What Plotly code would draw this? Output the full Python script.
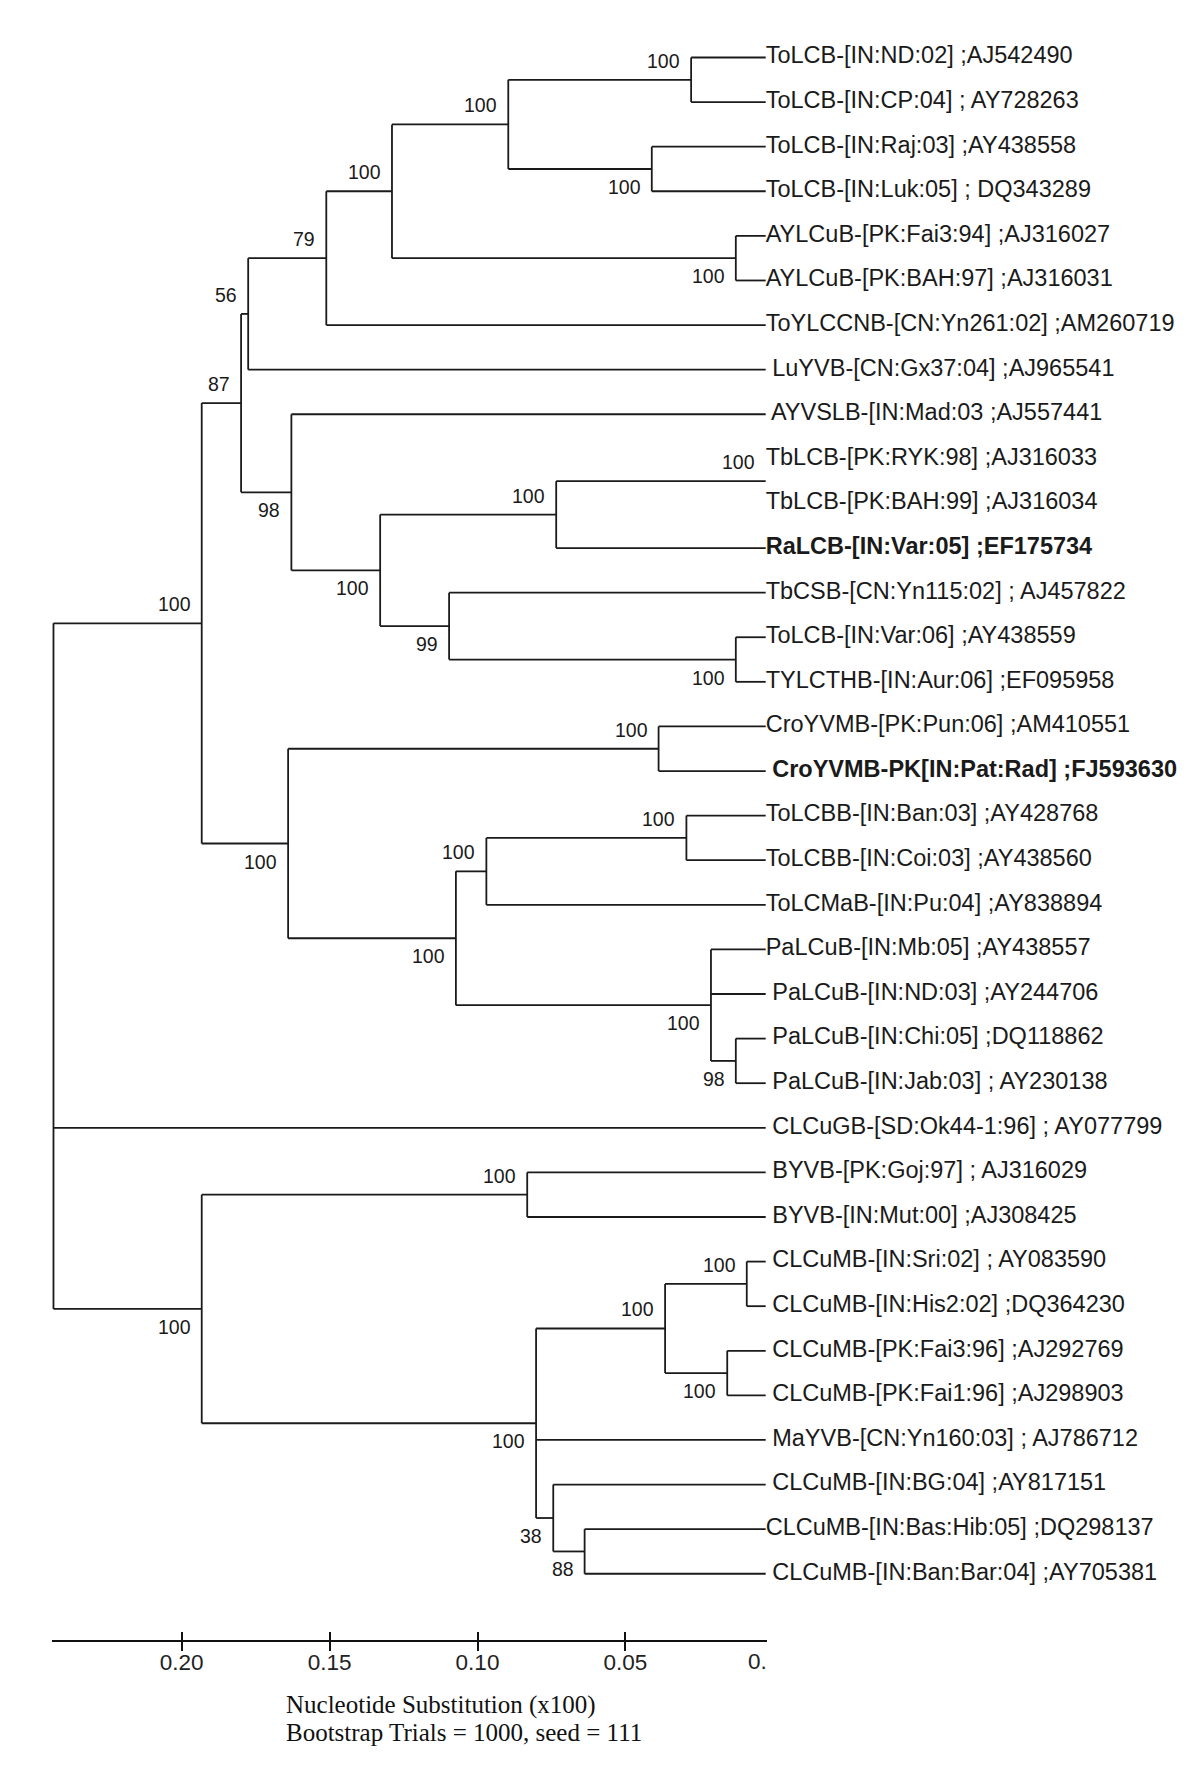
import plotly.graph_objects as go

# ---------------- data ----------------
tip_labels = [
    "ToLCB-[IN:ND:02] ;AJ542490",
    "ToLCB-[IN:CP:04] ; AY728263",
    "ToLCB-[IN:Raj:03] ;AY438558",
    "ToLCB-[IN:Luk:05] ; DQ343289",
    "AYLCuB-[PK:Fai3:94] ;AJ316027",
    "AYLCuB-[PK:BAH:97] ;AJ316031",
    "ToYLCCNB-[CN:Yn261:02] ;AM260719",
    " LuYVB-[CN:Gx37:04] ;AJ965541",
    " AYVSLB-[IN:Mad:03 ;AJ557441",
    "TbLCB-[PK:RYK:98] ;AJ316033",
    "TbLCB-[PK:BAH:99] ;AJ316034",
    "RaLCB-[IN:Var:05] ;EF175734",
    "TbCSB-[CN:Yn115:02] ; AJ457822",
    "ToLCB-[IN:Var:06] ;AY438559",
    "TYLCTHB-[IN:Aur:06] ;EF095958",
    "CroYVMB-[PK:Pun:06] ;AM410551",
    " CroYVMB-PK[IN:Pat:Rad] ;FJ593630",
    "ToLCBB-[IN:Ban:03] ;AY428768",
    "ToLCBB-[IN:Coi:03] ;AY438560",
    "ToLCMaB-[IN:Pu:04] ;AY838894",
    "PaLCuB-[IN:Mb:05] ;AY438557",
    " PaLCuB-[IN:ND:03] ;AY244706",
    " PaLCuB-[IN:Chi:05] ;DQ118862",
    " PaLCuB-[IN:Jab:03] ; AY230138",
    " CLCuGB-[SD:Ok44-1:96] ; AY077799",
    " BYVB-[PK:Goj:97] ; AJ316029",
    " BYVB-[IN:Mut:00] ;AJ308425",
    " CLCuMB-[IN:Sri:02] ; AY083590",
    " CLCuMB-[IN:His2:02] ;DQ364230",
    " CLCuMB-[PK:Fai3:96] ;AJ292769",
    " CLCuMB-[PK:Fai1:96] ;AJ298903",
    " MaYVB-[CN:Yn160:03] ; AJ786712",
    " CLCuMB-[IN:BG:04] ;AY817151",
    "CLCuMB-[IN:Bas:Hib:05] ;DQ298137",
    " CLCuMB-[IN:Ban:Bar:04] ;AY705381",
]
bold_tips = [11, 16]
tip_heights = [0.0026] * len(tip_labels)   # tips sit at ~0.0026 on the drawn scale

# internal nodes (children: int = tip index, str = node name)
node_names = ["ndcp", "rajluk", "tolcb4", "aylcub", "b", "n79", "n56",
              "tb", "tbra", "vartyl", "n99", "n100b", "n98", "n87",
              "cro", "tolcbb", "e", "chijab", "palcub", "d", "c", "a",
              "byvb", "sri", "fai", "h", "n88", "n38", "g", "f", "root"]
node_heights = [0.0278, 0.0411, 0.0896, 0.0127, 0.1289, 0.1511, 0.1775,
                0.0026, 0.0734, 0.0127, 0.1096, 0.1329, 0.1629, 0.1799,
                0.0388, 0.0294, 0.0970, 0.0127, 0.0211, 0.1073, 0.1640, 0.1932,
                0.0832, 0.0090, 0.0156, 0.0366, 0.0638, 0.0744, 0.0802, 0.1932, 0.2433]
node_children = [[0, 1], [2, 3], ["ndcp", "rajluk"], [4, 5], ["tolcb4", "aylcub"],
                 ["b", 6], ["n79", 7],
                 [9, 10], ["tb", 11], [13, 14], [12, "vartyl"], ["tbra", "n99"],
                 [8, "n100b"], ["n56", "n98"],
                 [15, 16], [17, 18], ["tolcbb", 19], [22, 23], [20, 21, "chijab"],
                 ["e", "palcub"], ["cro", "d"], ["n87", "c"],
                 [25, 26], [27, 28], [29, 30], ["sri", "fai"], [33, 34],
                 [32, "n88"], ["h", 31, "n38"], ["byvb", "g"], ["a", 24, "f"]]
node_support = ["100", "100", "100", "100", "100", "79", "56",
                "100", "100", "100", "99", "100", "98", "87",
                "100", "100", "100", "98", "100", "100", "100", "100",
                "100", "100", "100", "100", "88", "38", "100", "100", ""]
node_support_side = ["above", "below", "above", "below", "above", "above", "above",
                     "above", "above", "below", "below", "below", "below", "above",
                     "above", "above", "above", "below", "below", "below", "below", "above",
                     "above", "above", "below", "above", "below", "below", "below", "below", ""]

axis_tickvals = [0.20, 0.15, 0.10, 0.05]
axis_ticktext = ["0.20", "0.15", "0.10", "0.05"]
axis_end_label = "0."
axis_end_value = 0.00216
caption_lines = ["Nucleotide Substitution (x100)", "Bootstrap Trials = 1000, seed = 111"]

# ---------------- layout geometry ----------------
W, H = 1200, 1782
PPU = 2962.0        # pixels per substitution unit
X_ZERO = 765.7      # pixel of value 0
PAD = 0.0005
TIP0_PX = 49.5
PPI = 44.61         # pixels per tip row
AXIS_PX = 1632.5

root_h = node_heights[node_names.index("root")]
ml = X_ZERO - (root_h + PAD) * PPU
x_right = X_ZERO - axis_end_value * PPU
mr = W - x_right
pw = W - ml - mr
mb = H - AXIS_PX
ph = AXIS_PX
y_range = [(AXIS_PX - TIP0_PX) / PPI, -TIP0_PX / PPI]

TXT = "#1a1a1a"
SANS = "Arial, Liberation Sans, sans-serif"

# ---------------- tree geometry ----------------
node_idx = {n: i for i, n in enumerate(node_names)}
ycache = {}


def pos(c):
    if isinstance(c, int):
        return tip_heights[c], float(c)
    i = node_idx[c]
    if c not in ycache:
        ch = node_children[i]
        ycache[c] = (pos(ch[0])[1] + pos(ch[-1])[1]) / 2.0
    return node_heights[i], ycache[c]


lx, ly = [], []
for name, h, ch in zip(node_names, node_heights, node_children):
    chpos = [pos(c) for c in ch]
    if any(abs(p[0] - h) > 1e-9 for p in chpos):
        lx += [h, h, None]
        ly += [chpos[0][1], chpos[-1][1], None]
    for chh, chy in chpos:
        if abs(chh - h) > 1e-9:
            lx += [h, chh, None]
            ly += [chy, chy, None]

fig = go.Figure()
fig.add_trace(go.Scatter(x=lx, y=ly, mode="lines",
                         line=dict(color="#1a1a1a", width=1.8),
                         hoverinfo="skip", showlegend=False))

texts = [("<b>%s</b>" % t) if i in bold_tips else t for i, t in enumerate(tip_labels)]
fig.add_trace(go.Scatter(x=tip_heights, y=list(range(len(tip_labels))), mode="text",
                         text=texts, textposition="middle right",
                         textfont=dict(family=SANS, size=23.5, color=TXT),
                         cliponaxis=False, hoverinfo="skip", showlegend=False,
                         xaxis="x2", yaxis="y"))

annotations = []
for name, sup, side in zip(node_names, node_support, node_support_side):
    if not sup:
        continue
    h, y = pos(name)
    annotations.append(dict(x=h, y=y, xref="x", yref="y", text=sup, showarrow=False,
                            xanchor="right", yanchor="middle", xshift=-9,
                            yshift=19 if side == "above" else -18,
                            font=dict(family=SANS, size=19.5, color=TXT)))

# clipped end label of the scale
annotations.append(dict(x=1.0, y=(AXIS_PX - 1654.0) / ph, xref="paper", yref="paper",
                        text=axis_end_label, showarrow=False, xanchor="right",
                        yanchor="middle", xshift=2,
                        font=dict(family=SANS, size=22.5, color="#222222")))

cap_x = (275.5 - ml) / pw
for line, ypx in zip(caption_lines, [1698.0, 1725.0]):
    annotations.append(dict(x=cap_x, y=(AXIS_PX - ypx) / ph, xref="paper", yref="paper",
                            text=line, showarrow=False, xanchor="left", yanchor="middle",
                            font=dict(family="Liberation Serif, Times New Roman, serif",
                                      size=25, color="#111111")))

fig.update_layout(
    width=W, height=H, autosize=False,
    margin=dict(l=ml, r=mr, t=0, b=mb, pad=0),
    paper_bgcolor="white", plot_bgcolor="white",
    showlegend=False,
    xaxis=dict(range=[root_h + PAD, axis_end_value], showgrid=False, zeroline=False,
               showline=True, linecolor="#111111", linewidth=2,
               ticks="outside", ticklen=9, tickwidth=1.5, tickcolor="#111111",
               tickvals=axis_tickvals, ticktext=axis_ticktext, ticklabelstandoff=-8,
               tickfont=dict(family=SANS, size=22.5, color="#222222")),
    xaxis2=dict(overlaying="x", matches="x", anchor="y", side="bottom",
                showgrid=False, zeroline=False, showline=False,
                ticks="inside", ticklen=8, tickwidth=1.5, tickcolor="#111111",
                tickvals=axis_tickvals, showticklabels=False),
    yaxis=dict(range=y_range, visible=False, showgrid=False, zeroline=False),
    annotations=annotations,
)

fig.write_html("out.html")
